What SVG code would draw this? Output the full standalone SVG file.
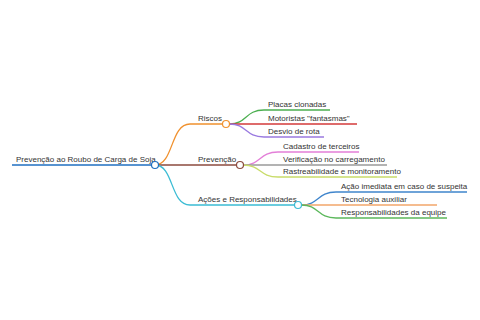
<svg xmlns="http://www.w3.org/2000/svg" width="480" height="320" viewBox="0 0 480 320">
<style>
text{font-family:"Liberation Sans",Arial,sans-serif;font-size:8px;fill:#333}
.l{fill:none;stroke-width:1.3}
.c{fill:#fff;stroke-width:1.2}
</style>
<rect width="480" height="320" fill="#fff"/>
<g id="connectors">
<path class="l" stroke="#1f6fc0" d="M12,165 L151.5,165"/>
<path class="l" stroke="#f0912e" d="M155,165 C174,165 170,124 190,124 L222.5,124"/>
<path class="l" stroke="#8b4a3e" d="M158.5,165 L236.5,165"/>
<path class="l" stroke="#3bbcd4" d="M155,165 C174,165 170,205 190,205 L294.5,205"/>
<path class="l" stroke="#4caf50" d="M229.5,124 C247,124 245,110 264,110 L330,110"/>
<path class="l" stroke="#d33a3a" d="M229.5,124 L357,124"/>
<path class="l" stroke="#9a7ae0" d="M229.5,124 C247,124 245,137 264,137 L324,137"/>
<path class="l" stroke="#e37fd8" d="M243.5,165 C261,165 259,152 278,152 L359,152"/>
<path class="l" stroke="#9a9a9a" d="M243.5,165 L387,165"/>
<path class="l" stroke="#c9dc6a" d="M243.5,165 C261,165 259,177 278,177 L397,177"/>
<path class="l" stroke="#3f85cc" d="M301.5,205 C319,205 317,192 336,192 L467,192"/>
<path class="l" stroke="#f2a66a" d="M301.5,205 L437,205"/>
<path class="l" stroke="#5cb85c" d="M301.5,205 C319,205 317,218 336,218 L447,218"/>
</g>
<g id="root"><text x="16" y="162">Prevenção ao Roubo de Carga de Soja</text><circle class="c" cx="155" cy="165" r="3.5" stroke="#1f6fc0"/></g>
<g id="riscos"><text x="198" y="121">Riscos</text><circle class="c" cx="226" cy="124" r="3.5" stroke="#f0912e"/></g>
<g id="prevencao"><text x="198" y="162">Prevenção</text><circle class="c" cx="240" cy="165" r="3.5" stroke="#8b4a3e"/></g>
<g id="acoes"><text x="198" y="202">Ações e Responsabilidades</text><circle class="c" cx="298" cy="205" r="3.5" stroke="#3bbcd4"/></g>
<g id="placas"><text x="268" y="107">Placas clonadas</text></g>
<g id="motoristas"><text x="268" y="121">Motoristas "fantasmas"</text></g>
<g id="desvio"><text x="268" y="134">Desvio de rota</text></g>
<g id="cadastro"><text x="283" y="149">Cadastro de terceiros</text></g>
<g id="verificacao"><text x="283" y="162">Verificação no carregamento</text></g>
<g id="rastreabilidade"><text x="283" y="174">Rastreabilidade e monitoramento</text></g>
<g id="acao"><text x="341" y="189">Ação imediata em caso de suspeita</text></g>
<g id="tecnologia"><text x="341" y="202">Tecnologia auxiliar</text></g>
<g id="responsabilidades"><text x="341" y="215">Responsabilidades da equipe</text></g>
</svg>
